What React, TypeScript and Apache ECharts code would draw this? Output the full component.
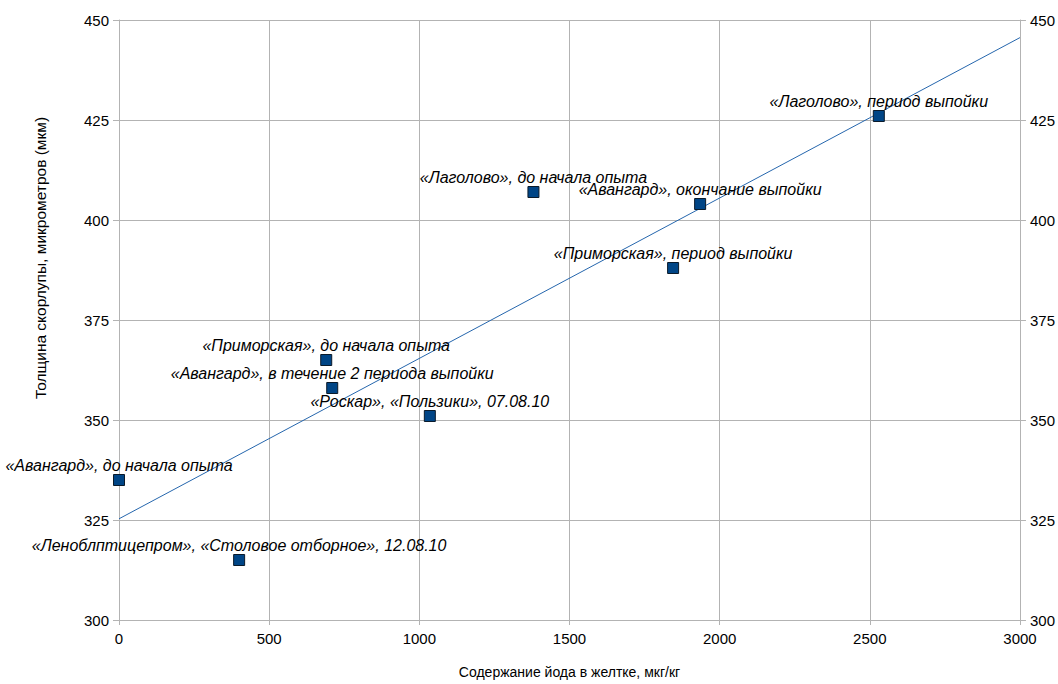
import React, { useEffect, useRef } from "react";
import * as echarts from "echarts";

const iodine = [0, 400, 690, 710, 1035, 1380, 1845, 1935, 2530];
const thickness = [335, 315, 365, 358, 351, 407, 388, 404, 426];
const names = [
  "«Авангард», до начала опыта",
  "«Леноблптицепром», «Столовое отборное», 12.08.10",
  "«Приморская», до начала опыта",
  "«Авангард», в течение 2 периода выпойки",
  "«Роскар», «Пользики», 07.08.10",
  "«Лаголово», до начала опыта",
  "«Приморская», период выпойки",
  "«Авангард», окончание выпойки",
  "«Лаголово», период выпойки",
];
const trendX = [0, 3000];
const trendY = [325.3, 445.6];
const yTicks = { min: 300, max: 450, interval: 25 };
const xTicks = { min: 0, max: 3000, interval: 500 };
const xTitle = "Содержание йода в желтке, мкг/кг";
const yTitle = "Толщина скорлупы, микрометров (мкм)";

export default function App() {
  const ref = useRef<HTMLDivElement>(null);
  useEffect(() => {
    const chart = echarts.init(ref.current!, undefined, { renderer: "svg" });
    const font = "'Liberation Sans', Arial, sans-serif";
    const gridColor = "#b3b3b3";
    const yAxisCommon = {
      type: "value" as const,
      min: yTicks.min,
      max: yTicks.max,
      interval: yTicks.interval,
      axisLine: { show: true, lineStyle: { color: gridColor } },
      axisTick: { show: true, length: 6, lineStyle: { color: gridColor } },
      axisLabel: { color: "#000", fontSize: 15, fontFamily: font, margin: 10 },
    };
    chart.setOption({
      animation: false,
      backgroundColor: "#fff",
      textStyle: { fontFamily: font },
      grid: { left: 119, right: 38, top: 20, bottom: 59 },
      graphic: [
        {
          type: "text",
          x: 40,
          y: 258,
          rotation: Math.PI / 2,
          style: {
            text: yTitle,
            fill: "#000",
            fontSize: 15.5,
            fontFamily: font,
            textAlign: "center",
            textVerticalAlign: "middle",
          },
        },
      ],
      xAxis: {
        type: "value",
        min: xTicks.min,
        max: xTicks.max,
        interval: xTicks.interval,
        name: xTitle,
        nameLocation: "middle",
        nameGap: 45,
        nameTextStyle: { color: "#000", fontSize: 14, fontFamily: font },
        axisLine: { show: true, lineStyle: { color: gridColor } },
        axisTick: { show: true, length: 5, lineStyle: { color: gridColor } },
        axisLabel: {
          color: "#000",
          fontSize: 15,
          fontFamily: font,
          margin: 11,
          formatter: (v: number) => String(v),
        },
        splitLine: { show: true, lineStyle: { color: gridColor, width: 1 } },
      },
      yAxis: [
        {
          ...yAxisCommon,
          position: "left",
          splitLine: { show: true, lineStyle: { color: gridColor, width: 1 } },
        },
        {
          ...yAxisCommon,
          position: "right",
          splitLine: { show: false },
        },
      ],
      series: [
        {
          type: "line",
          data: trendX.map((x, i) => [x, trendY[i]]),
          symbol: "none",
          lineStyle: { color: "#2566ad", width: 1 },
          z: 3,
        },
        {
          type: "scatter",
          data: iodine.map((x, i) => ({ value: [x, thickness[i]], name: names[i] })),
          symbol: "rect",
          symbolSize: 11,
          itemStyle: { color: "#004586", borderColor: "#0a1a2a", borderWidth: 1, opacity: 1 },
          label: {
            show: true,
            position: "top",
            distance: 1,
            formatter: (p: any) => p.name,
            color: "#000",
            fontSize: 16,
            fontStyle: "italic",
            fontFamily: font,
          },
          labelLayout: { hideOverlap: false },
          z: 4,
        },
      ],
    });
    return () => chart.dispose();
  }, []);
  return (
    <div
      ref={ref}
      style={{ position: "fixed", left: 0, top: 0, width: 1058, height: 684, overflow: "hidden" }}
    />
  );
}
